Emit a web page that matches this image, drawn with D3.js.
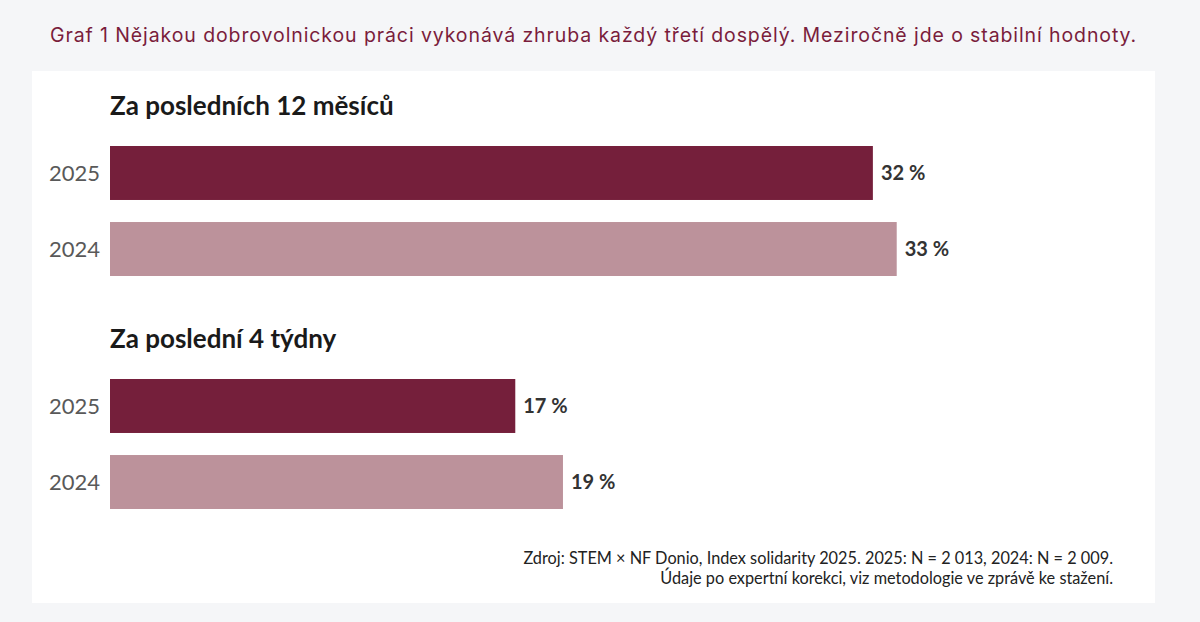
<!DOCTYPE html>
<html>
<head>
<meta charset="utf-8">
<script src="https://cdn.jsdelivr.net/npm/d3@7"></script>
<style>
  body { margin: 0; background: #f5f6f8; }
  svg { display: block; }
</style>
</head>
<body>
<svg width="1200" height="622"></svg>
<script>
const GROUPS = ["Za posledních 12 měsíců", "Za poslední 4 týdny"];
const YEARS = ["2025", "2024"];
const VALUES_2025 = [32, 17];
const VALUES_2024 = [33, 19];
const COLORS = { "2025": "#751f3b", "2024": "#bc929b" };

const TITLE = "Graf 1 Nějakou dobrovolnickou práci vykonává zhruba každý třetí dospělý. Meziročně jde o stabilní hodnoty.";
const SOURCE = [
    "Zdroj: STEM × NF Donio, Index solidarity 2025. 2025: N = 2 013, 2024: N = 2 009.",
    "Údaje po expertní korekci, viz metodologie ve zprávě ke stažení."
];

const svg = d3.select('svg');

svg.append('text')
    .attr('x', 50)
    .attr('y', 42)
    .attr('font-family', 'Inter, sans-serif')
    .attr('font-size', 19.5)
    .attr('letter-spacing', 0.9)
    .attr('fill', '#7a1d3c')
    .text(TITLE);

// white panel
svg.append('rect')
    .attr('x', 32)
    .attr('y', 71)
    .attr('width', 1123)
    .attr('height', 532)
    .attr('fill', '#ffffff');

const xScale = d3.scaleLinear()
    .domain([0, 40])
    .range([110, 110 + 953.6]);

// heading baseline per group
const groupScale = d3.scaleBand()
    .domain(GROUPS)
    .range([115, 581])
    .paddingInner(0);

const yearScale = d3.scaleBand()
    .domain(YEARS)
    .range([31, 161])
    .paddingInner(0.29)
    .paddingOuter(0);

const rows = [];
GROUPS.forEach((g, i) => {
    rows.push({ group: g, year: "2025", value: VALUES_2025[i] });
    rows.push({ group: g, year: "2024", value: VALUES_2024[i] });
});

const groups = svg.selectAll('.group')
    .data(GROUPS)
    .enter()
    .append('g')
    .classed('group', true)
    .attr('transform', g => `translate(0,${groupScale(g)})`);

groups.append('text')
    .attr('x', 110)
    .attr('y', 0)
    .attr('font-family', 'Lato, sans-serif')
    .attr('font-weight', 'bold')
    .attr('font-size', 26)
    .attr('fill', '#1a1a1a')
    .text(g => g);

const bar = groups.selectAll('.row')
    .data(g => rows.filter(r => r.group === g))
    .enter()
    .append('g')
    .classed('row', true);

bar.append('rect')
    .attr('x', xScale(0))
    .attr('y', d => yearScale(d.year))
    .attr('width', d => xScale(d.value) - xScale(0))
    .attr('height', yearScale.bandwidth())
    .attr('fill', d => COLORS[d.year]);

bar.append('text')
    .attr('x', xScale(0) - 10)
    .attr('y', d => yearScale(d.year) + yearScale.bandwidth() / 2)
    .attr('dy', '0.36em')
    .attr('text-anchor', 'end')
    .attr('font-family', 'Lato, sans-serif')
    .attr('font-size', 22)
    .attr('fill', '#595959')
    .text(d => d.year);

bar.append('text')
    .attr('x', d => xScale(d.value) + 8)
    .attr('y', d => yearScale(d.year) + yearScale.bandwidth() / 2)
    .attr('dy', '0.36em')
    .attr('font-family', 'Lato, sans-serif')
    .attr('font-weight', 'bold')
    .attr('font-size', 20)
    .attr('fill', '#333333')
    .text(d => d.value + ' %');

svg.selectAll('.source')
    .data(SOURCE)
    .enter()
    .append('text')
    .classed('source', true)
    .attr('x', 1113)
    .attr('y', (d, i) => 564 + i * 20)
    .attr('text-anchor', 'end')
    .attr('font-family', 'Lato, sans-serif')
    .attr('font-size', 16.3)
    .attr('fill', '#222222')
    .text(d => d);
</script>
</body>
</html>
